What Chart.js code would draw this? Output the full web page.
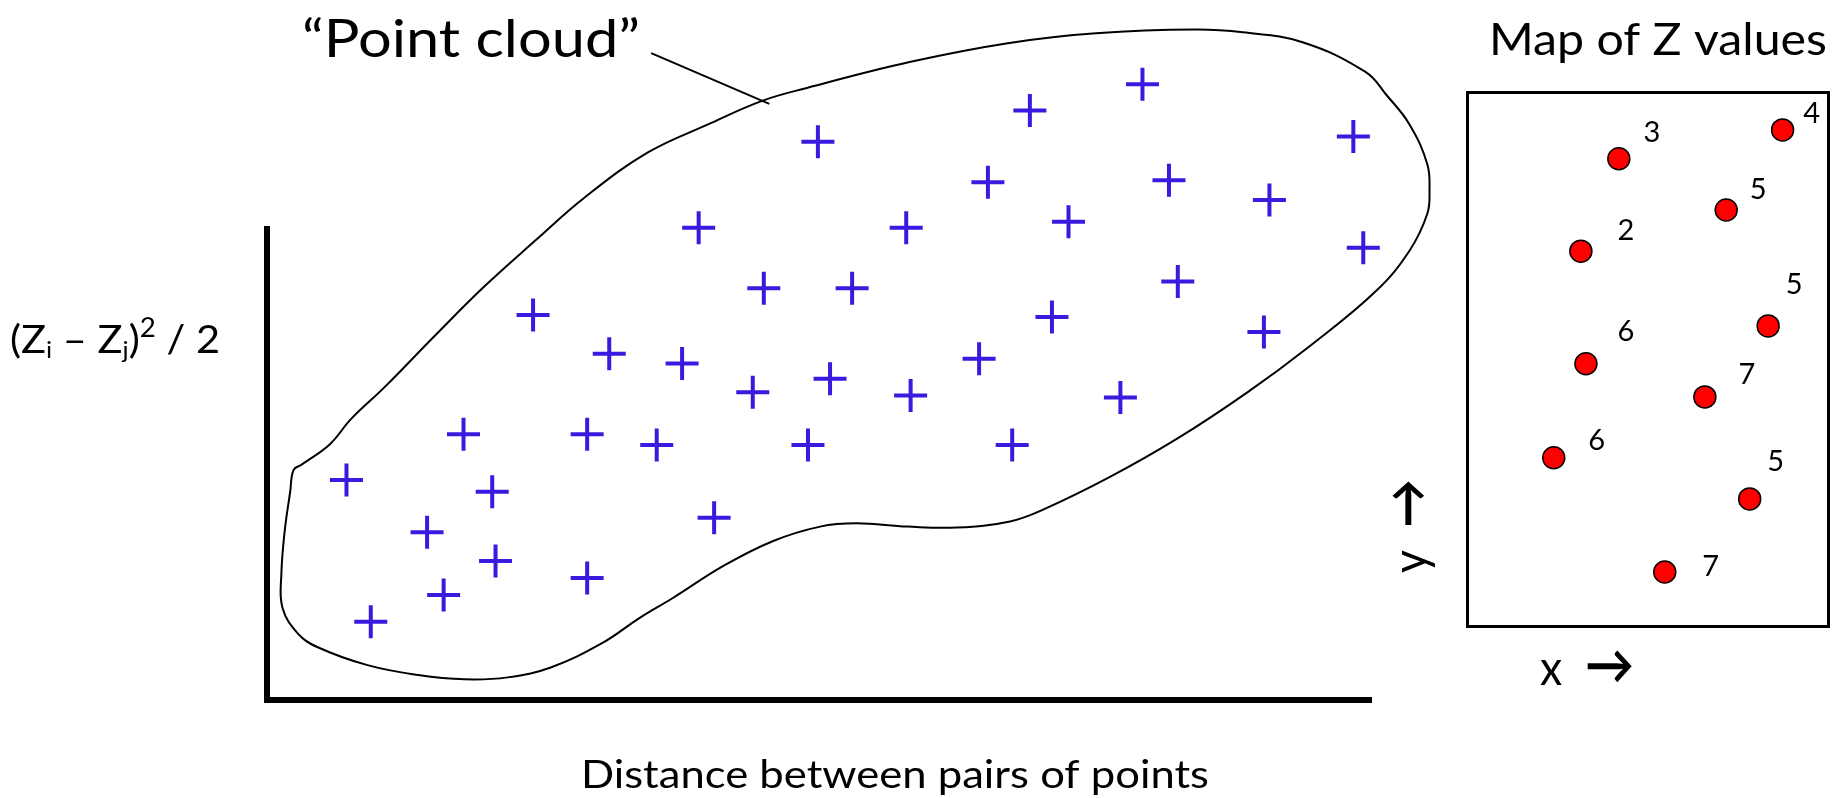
<!DOCTYPE html>
<html>
<head>
<meta charset="utf-8">
<title>Point cloud</title>
<script src="https://cdn.jsdelivr.net/npm/chart.js@4.4.0/dist/chart.umd.min.js"></script>
<style>
  html, body { margin: 0; padding: 0; background: #fff; }
  .wrap { position: relative; width: 1841px; height: 798px; overflow: hidden; }
  .wrap canvas { position: absolute; left: 0; top: 0; }
</style>
</head>
<body>
<div class="wrap">
  <canvas id="cloud" width="1841" height="798"></canvas>
  <canvas id="map" width="1841" height="798"></canvas>
</div>
<script>
// ----- pairs: distance vs (Zi - Zj)^2 / 2 -----
const lagDist = [4.99, 6.91, 7.93, 9.84, 3.91, 5.79, 6.53, 7.26, 8.17, 9.08,
                 9.93, 4.50, 5.30, 8.25, 2.41, 7.11, 9.03, 3.10, 3.76, 4.40,
                 5.10, 5.83, 6.45, 7.73, 1.78, 2.90, 3.53, 4.90, 6.75, 0.72,
                 2.04, 4.05, 1.45, 2.07, 1.60, 2.90, 0.94];
const semiVar = [11.85, 12.51, 13.07, 11.96, 10.02, 10.02, 10.99, 10.15, 11.03, 10.61,
                 9.60, 8.74, 8.74, 8.88, 8.17, 8.13, 7.81, 7.35, 7.14, 6.53,
                 6.82, 6.46, 7.24, 6.42, 5.64, 5.64, 5.41, 5.41, 5.41, 4.67,
                 4.42, 3.87, 3.56, 2.95, 2.23, 2.59, 1.66];

// hand drawn envelope round the cloud (closed, starts and ends at the hook)
const hullX = [0.31, 0.57, 0.76, 1.07, 1.52, 1.97, 2.43, 2.88, 3.45, 3.99,
               4.49, 4.89, 5.82, 6.71, 7.51, 8.41, 8.84, 9.38, 9.95, 10.14,
               10.35, 10.51, 10.53, 10.51, 10.35, 10.05, 9.45, 8.88, 8.24, 7.64,
               7.03, 6.73, 6.25, 5.80, 5.34, 5.01, 4.58, 4.13, 3.68, 3.38,
               3.03, 2.57, 2.18, 1.79, 1.37, 0.91, 0.46, 0.28, 0.14, 0.13,
               0.16, 0.21, 0.24, 0.31];
const hullY = [4.99, 5.43, 5.96, 6.65, 7.73, 8.78, 9.75, 10.67, 11.62, 12.21,
               12.72, 12.99, 13.54, 13.94, 14.15, 14.23, 14.17, 13.96, 13.33, 12.84,
               12.21, 11.37, 10.80, 10.32, 9.54, 8.69, 7.52, 6.53, 5.54, 4.74,
               4.04, 3.79, 3.66, 3.68, 3.75, 3.68, 3.37, 2.84, 2.17, 1.75,
               1.20, 0.69, 0.48, 0.44, 0.53, 0.74, 1.12, 1.41, 1.96, 2.67,
               3.58, 4.42, 4.88, 4.99];

// pointer from the caption to the envelope
const leaderX = [3.48, 4.55];
const leaderY = [13.73, 12.65];

// ----- sample map -----
const siteX = [4.20, 8.73, 7.17, 3.15, 8.33, 3.29, 6.58, 2.40, 7.82, 5.47];
const siteY = [8.75, 9.29, 7.79, 7.02, 5.62, 4.91, 4.29, 3.15, 2.38, 1.01];
const zValues = [3, 4, 5, 2, 5, 6, 7, 6, 5, 7];
// where each value sits next to its dot (px)
const zLabelShift = [[33, -27], [29, -17], [32, -22], [45, -22], [26, -42],
                     [40, -33], [42, -23], [43, -18], [26, -38], [46, -7]];

const BLUE = '#3b1ae0';
const INK = '#000';
const FONT = 'Lato, "DejaVu Sans", sans-serif';

const xy = (xs, ys) => xs.map((x, i) => ({ x, y: ys[i] }));

// draws a row of text pieces (for sub/superscripts), squeezed to a given width
function runs(ctx, parts, x, y, width, align) {
  const fontOf = p => `${p.weight || 'normal'} ${p.size}px ${FONT}`;
  let total = 0;
  parts.forEach(p => {
    ctx.font = fontOf(p);
    p.w = ctx.measureText(p.t).width;
    total += p.w;
  });
  const sx = width ? width / total : 1;
  ctx.save();
  ctx.textAlign = 'left';
  ctx.textBaseline = 'alphabetic';
  ctx.translate(x, y);
  ctx.scale(sx, 1);
  let cx = align === 'center' ? -total / 2 : 0;
  parts.forEach(p => {
    ctx.font = fontOf(p);
    ctx.fillText(p.t, cx, p.dy || 0);
    cx += p.w;
  });
  ctx.restore();
}

const cloudText = {
  id: 'cloudText',
  afterDraw(chart) {
    const { ctx } = chart;
    ctx.save();
    ctx.fillStyle = INK;
    runs(ctx, [{ t: '\u201CPoint cloud\u201D', size: 52 }], 471, 57, 338, 'center');
    runs(ctx, [
      { t: '(Z', size: 39 },
      { t: 'i', size: 24, dy: 5 },
      { t: ' \u2013 Z', size: 39 },
      { t: 'j', size: 24, dy: 5 },
      { t: ')', size: 39 },
      { t: '2', size: 26, dy: -16 },
      { t: ' / 2', size: 39 }
    ], 10, 353, 210, 'left');
    runs(ctx, [{ t: 'Distance between pairs of points', size: 39 }], 895, 788, 628, 'center');
    ctx.restore();
  }
};

const axisLabel = ch => [
  { t: ch + '  ', size: 49 },
  { t: '\u2192', size: 54, weight: 'bold', dy: -1 }
];

const mapText = {
  id: 'mapText',
  afterDatasetsDraw(chart) {
    const { ctx } = chart;
    const dots = chart.getDatasetMeta(0).data;
    ctx.save();
    ctx.fillStyle = INK;
    ctx.textAlign = 'center';
    ctx.textBaseline = 'alphabetic';
    ctx.font = `29px ${FONT}`;
    dots.forEach((p, i) => {
      const [dx, dy] = zLabelShift[i];
      ctx.fillText(String(zValues[i]), p.x + dx, p.y + dy + 10.5);
    });
    runs(ctx, [{ t: 'Map of Z values', size: 45 }], 1658, 55, 338, 'center');
    runs(ctx, axisLabel('x'), 1540, 685, 94, 'left');
    ctx.translate(1427, 573);
    ctx.rotate(-Math.PI / 2);
    runs(ctx, axisLabel('y'), 0, 0, 94, 'left');
    ctx.restore();
  }
};

const bare = (extra) => Object.assign({
  type: 'linear',
  ticks: { display: false },
  grid: { display: false, drawTicks: false }
}, extra);

// ----- left: the point cloud -----
new Chart(document.getElementById('cloud'), {
  type: 'scatter',
  data: {
    datasets: [
      {
        data: xy(lagDist, semiVar),
        pointStyle: 'cross',
        pointRadius: 16.5,
        borderWidth: 4,
        borderColor: BLUE,
        clip: false
      },
      {
        type: 'line',
        data: xy(hullX, hullY),
        pointRadius: 0,
        borderColor: INK,
        borderWidth: 2,
        tension: 0.4,
        capBezierPoints: false,
        fill: false,
        clip: false
      },
      {
        type: 'line',
        data: xy(leaderX, leaderY),
        pointRadius: 0,
        borderColor: INK,
        borderWidth: 2,
        fill: false,
        clip: false
      }
    ]
  },
  options: {
    responsive: false,
    animation: false,
    devicePixelRatio: 1,
    events: [],
    layout: { padding: { left: 267, top: 15, right: 470, bottom: 98 } },
    plugins: { legend: { display: false }, tooltip: { enabled: false } },
    scales: {
      x: bare({ min: 0, max: 10, border: { color: INK, width: 6 } }),
      // y axis only spans the lower part; the upper part of the stack is blank room
      y: bare({ min: 0, max: 10, stack: 'left', stackWeight: 475,
                grid: { display: false, drawTicks: false, lineWidth: 6 },
                border: { color: INK, width: 6 } }),
      yTop: bare({ position: 'left', min: 0, max: 1, stack: 'left', stackWeight: 210,
                   border: { display: false } })
    }
  },
  plugins: [cloudText]
});

// ----- right: map of the samples -----
const frame = { color: INK, width: 3 };
const frameGrid = { display: false, drawTicks: false, lineWidth: 3 };
new Chart(document.getElementById('map'), {
  type: 'scatter',
  data: {
    datasets: [{
      data: xy(siteX, siteY),
      pointRadius: 11,
      borderWidth: 1.5,
      borderColor: INK,
      backgroundColor: '#ff0000'
    }]
  },
  options: {
    responsive: false,
    animation: false,
    devicePixelRatio: 1,
    events: [],
    layout: { padding: { left: 1467, top: 92, right: 3, bottom: 172 } },
    plugins: { legend: { display: false }, tooltip: { enabled: false } },
    scales: {
      x: bare({ min: 0, max: 10, grid: frameGrid, border: frame }),
      xTop: bare({ position: 'top', min: 0, max: 10, grid: frameGrid, border: frame }),
      y: bare({ min: 0, max: 10, grid: frameGrid, border: frame }),
      yRight: bare({ position: 'right', min: 0, max: 10, grid: frameGrid, border: frame })
    }
  },
  plugins: [mapText]
});
</script>
</body>
</html>
